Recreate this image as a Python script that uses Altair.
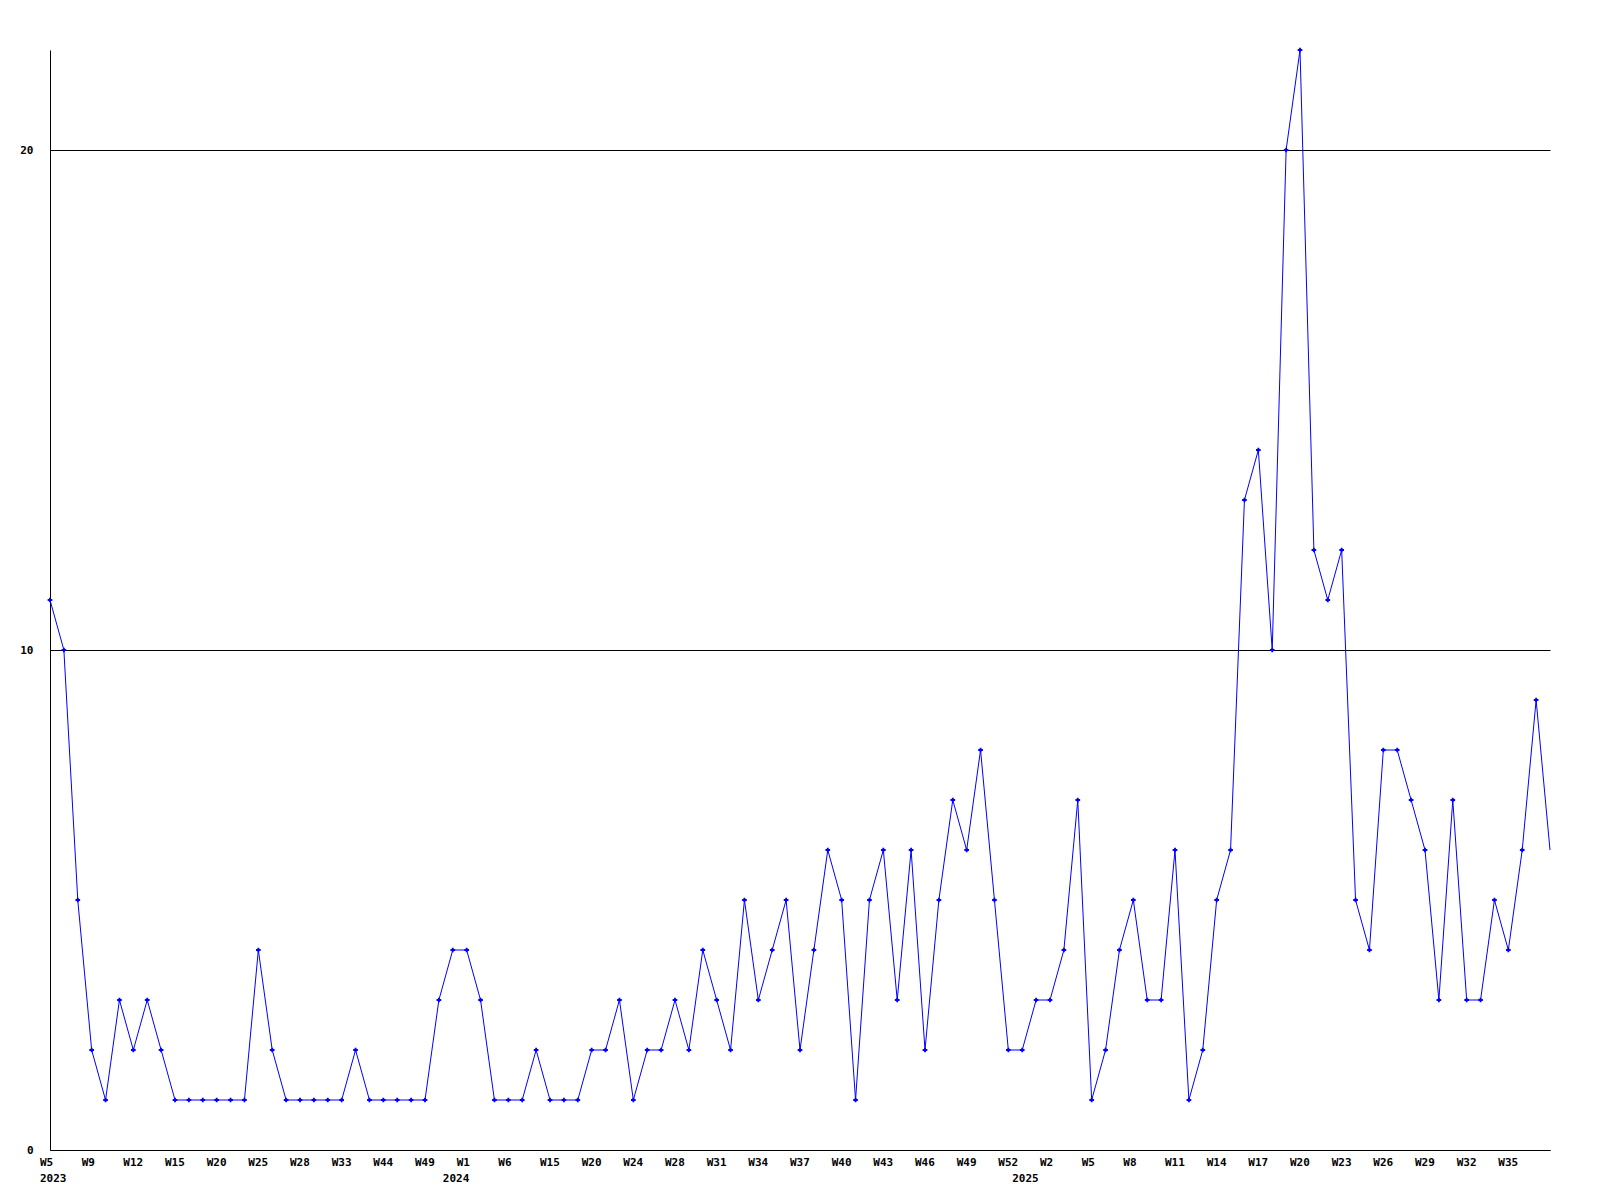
import altair as alt
import pandas as pd

values = [11, 10, 5, 2, 1, 3, 2, 3, 2, 1,
          1, 1, 1, 1, 1, 4, 2, 1, 1, 1,
          1, 1, 2, 1, 1, 1, 1, 1, 3, 4,
          4, 3, 1, 1, 1, 2, 1, 1, 1, 2,
          2, 3, 1, 2, 2, 3, 2, 4, 3, 2,
          5, 3, 4, 5, 2, 4, 6, 5, 1, 5,
          6, 3, 6, 2, 5, 7, 6, 8, 5, 2,
          2, 3, 3, 4, 7, 1, 2, 4, 5, 3,
          3, 6, 1, 2, 5, 6, 13, 14, 10, 20,
          22, 12, 11, 12, 5, 4, 8, 8, 7, 6,
          3, 7, 3, 3, 5, 4, 6, 9, 6]

tick_labels = ["W5", "W9", "W12", "W15", "W20", "W25", "W28", "W33", "W44", "W49",
               "W1", "W6", "W15", "W20", "W24", "W28", "W31", "W34", "W37", "W40",
               "W43", "W46", "W49", "W52", "W2", "W5", "W8", "W11", "W14", "W17",
               "W20", "W23", "W26", "W29", "W32", "W35"]
tick_step = 3

years = ["2023", "2024", "2025"]
year_index = [0, 29, 70]

df = pd.DataFrame({"idx": list(range(len(values))), "count": values})
tdf = pd.DataFrame({"idx": [i * tick_step for i in range(len(tick_labels))], "lab": tick_labels})
ydf = pd.DataFrame({"idx": year_index, "year": years})

FONT = "DejaVu Sans Mono"
BLUE = "#0000ff"
last = len(values) - 1

xscale = alt.Scale(domain=[0, last], nice=False, zero=False)
yscale = alt.Scale(domain=[0, 22], nice=False, zero=True)

xaxis = alt.Axis(labels=False, title=None, grid=False, ticks=False, tickSize=0,
                 domainColor="black", domainWidth=1)
yaxis = alt.Axis(values=[0, 10, 20], title=None, grid=True, gridColor="black", gridWidth=1,
                 gridOpacity=1, ticks=False, tickSize=0, domainColor="black", domainWidth=1,
                 labelFont=FONT, labelFontWeight="bold", labelFontSize=11, labelColor="black",
                 labelPadding=17, labelBaseline="middle")

base = alt.Chart(df).encode(
    x=alt.X("idx:Q", scale=xscale, axis=xaxis),
    y=alt.Y("count:Q", scale=yscale, axis=yaxis),
)

line = base.mark_line(color=BLUE, strokeWidth=1)
pts = base.transform_filter(alt.datum.idx < last).mark_point(
    shape="cross", filled=True, color=BLUE, size=22, opacity=1)

week_text = alt.Chart(tdf).mark_text(
    align="left", baseline="top", dx=-10, font=FONT, fontWeight="bold", fontSize=11, color="black"
).encode(
    x=alt.X("idx:Q", scale=xscale),
    y=alt.value(1107),
    text="lab:N",
)

year_text = alt.Chart(ydf).mark_text(
    align="left", baseline="top", dx=-10, font=FONT, fontWeight="bold", fontSize=11, color="black"
).encode(
    x=alt.X("idx:Q", scale=xscale),
    y=alt.value(1123),
    text="year:N",
)

chart = alt.layer(line, pts, week_text, year_text).properties(
    width=1500,
    height=1100,
    padding={"left": 42, "top": 42, "right": 40, "bottom": 50},
    autosize=alt.AutoSizeParams(type="none"),
    background="white",
).configure_view(stroke=None)

chart.save("out.html", embed_options={"renderer": "svg", "actions": False})
